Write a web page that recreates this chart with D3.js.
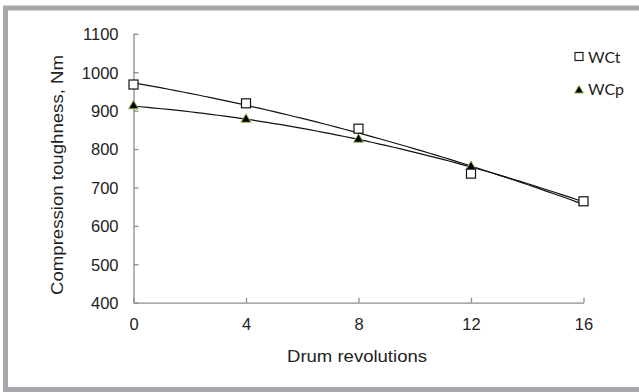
<!DOCTYPE html>
<html>
<head>
<meta charset="utf-8">
<script src="https://cdn.jsdelivr.net/npm/d3@7"></script>
<style>
  html, body { margin: 0; padding: 0; background: #fff; }
  svg { display: block; }
  .tick text { font-family: "Liberation Sans", Arial, sans-serif; font-size: 16.5px; fill: #222; }
</style>
</head>
<body>
<div id="chart"></div>
<script>
// Drum revolutions (x) and compression toughness values
const revolutions = [0, 4, 8, 12, 16];
const wctValues = [968, 919, 853, 736, 664];
const wcpValues = [912, 877, 825, 754, 662];
const yTicks = [400, 500, 600, 700, 800, 900, 1000, 1100];
const xTicks = [0, 4, 8, 12, 16];

const width = 639, height = 392;
const svg = d3.select("#chart").append("svg")
    .attr("width", width)
    .attr("height", height);

// grey frame (top, left, bottom)
svg.append("rect").attr("x", 0).attr("y", 0).attr("width", width).attr("height", height).attr("fill", "#fff");
svg.append("path")
    .attr("d", `M${width},8 H5.5 V389.5 H${width}`)
    .attr("fill", "none")
    .attr("stroke", "#a8a8ac")
    .attr("stroke-width", 5);

const x = d3.scaleLinear().domain([0, 16]).range([133.5, 583.5]);
const y = d3.scaleLinear().domain([400, 1100]).range([302.7, 33.8]);

// y axis, ticks pointing inward
const yAxis = svg.append("g")
    .attr("transform", `translate(${x(0)},0)`)
    .call(d3.axisLeft(y).tickValues(yTicks).tickFormat(d3.format("d")).tickSize(0).tickPadding(15));
yAxis.selectAll(".tick line").attr("x2", 5);
yAxis.selectAll(".tick text").attr("dy", "0.36em");

// x axis, ticks pointing up
const xAxis = svg.append("g")
    .attr("transform", `translate(0,${y(400)})`)
    .call(d3.axisBottom(x).tickValues(xTicks).tickFormat(d3.format("d")).tickSize(0).tickPadding(16));
xAxis.selectAll(".tick line").attr("y2", -5);

svg.selectAll(".domain, .tick line").attr("stroke", "#8c8c8c").attr("stroke-width", 1.3);

// axis titles
svg.append("text")
    .attr("x", 287).attr("y", 361.5)
    .attr("textLength", 140)
    .attr("lengthAdjust", "spacingAndGlyphs")
    .style("font-family", "'Liberation Sans', Arial, sans-serif")
    .style("font-size", "16.5px").attr("fill", "#222")
    .text("Drum revolutions");

svg.append("text")
    .attr("transform", "translate(63,295) rotate(-90)")
    .attr("textLength", 240)
    .attr("lengthAdjust", "spacingAndGlyphs")
    .style("font-family", "'Liberation Sans', Arial, sans-serif")
    .style("font-size", "16.5px").attr("fill", "#222")
    .text("Compression toughness, Nm");

// 2nd order polynomial trendline (least squares)
function quadFit(xs, ys) {
    let s = [0, 0, 0, 0, 0], t = [0, 0, 0];
    xs.forEach((xv, i) => {
        for (let k = 0; k < 5; k++) s[k] += Math.pow(xv, k);
        for (let k = 0; k < 3; k++) t[k] += ys[i] * Math.pow(xv, k);
    });
    const m = [[s[0], s[1], s[2], t[0]], [s[1], s[2], s[3], t[1]], [s[2], s[3], s[4], t[2]]];
    for (let i = 0; i < 3; i++) {
        for (let j = i + 1; j < 3; j++) {
            const f = m[j][i] / m[i][i];
            for (let k = i; k < 4; k++) m[j][k] -= f * m[i][k];
        }
    }
    const c = [0, 0, 0];
    for (let i = 2; i >= 0; i--) {
        let v = m[i][3];
        for (let k = i + 1; k < 3; k++) v -= m[i][k] * c[k];
        c[i] = v / m[i][i];
    }
    return xv => c[0] + c[1] * xv + c[2] * xv * xv;
}

const line = d3.line().x(d => x(d[0])).y(d => y(d[1]));
const samples = d3.range(0, 16.01, 0.25);
[wctValues, wcpValues].forEach(vals => {
    const f = quadFit(revolutions, vals);
    svg.append("path")
        .datum(samples.map(v => [v, f(v)]))
        .attr("d", line)
        .attr("fill", "none")
        .attr("stroke", "#111")
        .attr("stroke-width", 1.2);
});

// markers
const tri = d3.symbol().type(d3.symbolTriangle).size(42);
svg.selectAll(".wcp").data(revolutions).join("path")
    .attr("class", "wcp")
    .attr("transform", (d, i) => `translate(${x(d)},${y(wcpValues[i])})`)
    .attr("d", tri)
    .attr("fill", "#000")
    .attr("stroke", "#9bbb59")
    .attr("stroke-width", 1);

svg.selectAll(".wct").data(revolutions).join("rect")
    .attr("class", "wct")
    .attr("x", d => x(d) - 4.5)
    .attr("y", (d, i) => y(wctValues[i]) - 4.5)
    .attr("width", 9).attr("height", 9)
    .attr("fill", "#fff")
    .attr("stroke", "#111")
    .attr("stroke-width", 1.2);

// legend
const legend = svg.append("g");
legend.append("rect")
    .attr("x", 575).attr("y", 52.5).attr("width", 8).attr("height", 8)
    .attr("fill", "#fff").attr("stroke", "#111").attr("stroke-width", 1.1);
legend.append("path")
    .attr("transform", "translate(579,90.5)")
    .attr("d", d3.symbol().type(d3.symbolTriangle).size(34))
    .attr("fill", "#000").attr("stroke", "#9bbb59").attr("stroke-width", 1);
legend.selectAll("text").data(["WCt", "WCp"]).join("text")
    .attr("x", 588)
    .attr("y", (d, i) => 62.5 + i * 32)
    .style("font-family", "Lato, 'Open Sans', sans-serif")
    .style("font-size", "16px")
    .attr("fill", "#222")
    .text(d => d);
</script>
</body>
</html>
